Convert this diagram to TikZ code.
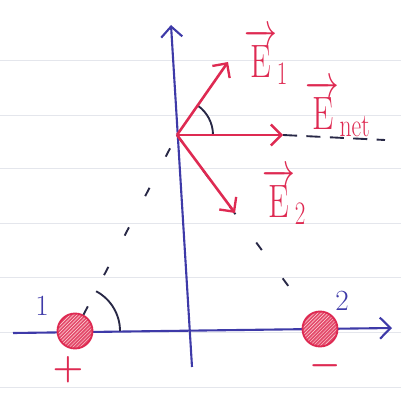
\RequirePackage{fix-cm}
\documentclass[tikz,border=0pt]{standalone}
\usepackage{amsmath}
\usepackage{xcolor}
\usepackage{tikz}
\usetikzlibrary{arrows.meta,patterns,positioning,calc}

\definecolor{inkred}{RGB}{222,42,82}
\definecolor{inkblue}{RGB}{62,58,168}
\definecolor{inkdark}{RGB}{40,40,70}
\definecolor{ruled}{RGB}{228,230,236}

\begin{document}
\begin{tikzpicture}[
    x=0.03cm, y=0.03cm,
    axis/.style={draw=inkblue, line width=1.8pt, -{Straight Barb[length=9pt, width=18pt, line width=1.8pt]}},
    vec/.style={draw=inkred, line width=2.2pt, -{Straight Barb[length=9pt, width=18pt, line width=2pt]}},
    dashln/.style={draw=inkdark, line width=1.6pt, dash pattern=on 8pt off 30pt},
    angarc/.style={draw=inkdark, line width=1.6pt},
    charge/.style={circle, draw=inkred, line width=1.6pt, minimum size=1.05cm, inner sep=0pt, preaction={fill=inkred!85}, pattern={north east lines}, pattern color=red!15},
    lbl/.style={text=inkred, font=\fontsize{40}{44}\selectfont},
    num/.style={text=inkblue, font=\fontsize{25}{28}\selectfont},
    sign/.style={text=inkred, font=\fontsize{30}{34}\selectfont}
]
    \useasboundingbox (0,0) rectangle (401,392);
    % ruled paper
    \foreach \yy in {5,60,115,169,224,277,332}
        \draw [ruled, line width=0.8pt] (0,\yy) -- (401,\yy);

    \coordinate (O) at (177,257);
    \coordinate (xl) at (13,59);
    \coordinate (xr) at (392,64);
    \coordinate (yb) at (192,25);
    \coordinate (yt) at (171,367);

    \draw [axis] (xl) -- (xr);
    \draw [axis] (yb) -- (yt);

    \node [charge] (q1) at (75,61) {};
    \node [charge] (q2) at (320,63) {};
    \node [num] (n1) at (42,86) {1};
    \node [num] (n2) at (342,91) {2};
    \node [sign] (plus) at (68,22) {$\boldsymbol{+}$};
    \node [sign] (minus) at (325,26) {$\boldsymbol{-}$};

    \draw [dashln] (q1) -- (O);
    \draw [dashln] (O) -- (q2);
    \draw [angarc] ($(q1)+(45,0)$) arc[start angle=0, end angle=62, radius=45];

    \coordinate (e1) at (228,330);
    \coordinate (en) at (283,257);
    \coordinate (e2) at (235,179);
    \coordinate (ext) at (385,252);

    \draw [dashln, dash pattern=on 12pt off 8pt] (en) -- (ext);
    \draw [angarc] ($(O)+(36,0)$) arc[start angle=0, end angle=55, radius=36];
    \draw [vec] (O) -- (e1);
    \draw [vec] (O) -- (en);
    \draw [vec] (O) -- (e2);

    \node [lbl] (l1) at (266,336) {\scalebox{0.7}[1]{$\overrightarrow{\mathrm{E}}_{1}$}};
    \node [lbl] (ln) at (338,284) {\scalebox{0.72}[1]{$\overrightarrow{\mathrm{E}}_{\mathrm{net}}$}};
    \node [lbl] (l2) at (284,196) {\scalebox{0.7}[1]{$\overrightarrow{\mathrm{E}}_{2}$}};
\end{tikzpicture}
\end{document}
